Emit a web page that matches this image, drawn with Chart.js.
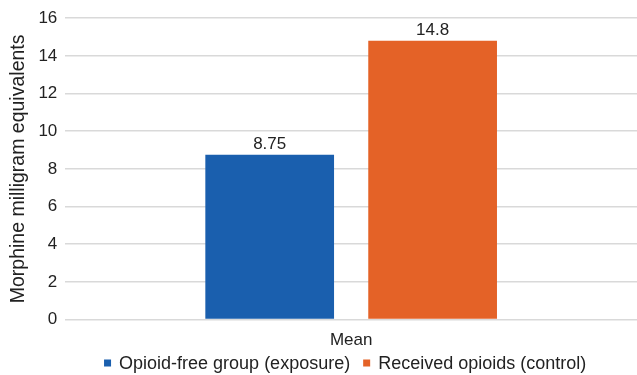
<!DOCTYPE html>
<html>
<head>
<meta charset="utf-8">
<script src="https://cdn.jsdelivr.net/npm/chart.js@4"></script>
<style>
  html, body { margin: 0; padding: 0; background: #fff; }
  #wrap { width: 637px; height: 375px; position: relative; }
</style>
</head>
<body>
<div id="wrap"><canvas id="barChart"></canvas></div>
<script>
// chart values
var categories = ['Mean'];
var exposureValues = [8.75];
var controlValues = [14.8];
var seriesNames = ['Opioid-free group (exposure)', 'Received opioids (control)'];
var seriesColors = ['#1a5fae', '#e46227'];

var fontFamily = '"Liberation Sans", Arial, sans-serif';

// draws the value above each bar
var valueLabels = {
    id: 'valueLabels',
    afterDatasetsDraw: function (chart) {
        var ctx = chart.ctx;
        ctx.save();
        ctx.font = '17px ' + fontFamily;
        ctx.fillStyle = '#222';
        ctx.textAlign = 'center';
        ctx.textBaseline = 'bottom';
        chart.data.datasets.forEach(function (ds, i) {
            chart.getDatasetMeta(i).data.forEach(function (bar, j) {
                ctx.fillText(String(ds.data[j]), bar.x, bar.y - 2);
            });
        });
        ctx.restore();
    }
};

// compact legend under the axis (built-in one takes too much height)
var bottomLegend = {
    id: 'bottomLegend',
    afterDraw: function (chart) {
        var ctx = chart.ctx;
        var box = 7, gap = 8, itemGap = 13;
        ctx.save();
        ctx.font = '18px ' + fontFamily;
        ctx.textBaseline = 'middle';
        var widths = chart.data.datasets.map(function (ds) {
            return box + gap + ctx.measureText(ds.label).width;
        });
        var total = widths.reduce(function (a, b) { return a + b; }, 0) + itemGap * (widths.length - 1);
        var x = (chart.chartArea.left + chart.chartArea.right) / 2 - 6 - total / 2;
        var y = chart.height - 12;
        chart.data.datasets.forEach(function (ds, i) {
            ctx.fillStyle = ds.backgroundColor;
            ctx.fillRect(x, y - box / 2, box, box);
            ctx.fillStyle = '#222';
            ctx.fillText(ds.label, x + box + gap, y + 1);
            x += widths[i] + itemGap;
        });
        ctx.restore();
    }
};

var ctx = document.getElementById('barChart').getContext('2d');
new Chart(ctx, {
    type: 'bar',
    data: {
        labels: categories,
        datasets: [{
            label: seriesNames[0],
            data: exposureValues,
            backgroundColor: seriesColors[0],
            barPercentage: 0.79,
            categoryPercentage: 0.57
        }, {
            label: seriesNames[1],
            data: controlValues,
            backgroundColor: seriesColors[1],
            barPercentage: 0.79,
            categoryPercentage: 0.57
        }]
    },
    options: {
        responsive: true,
        maintainAspectRatio: false,
        animation: false,
        layout: { padding: { top: 10, right: 0, left: 7, bottom: 13 } },
        plugins: {
            legend: { display: false },
            tooltip: { enabled: false }
        },
        scales: {
            x: {
                grid: { display: false, drawTicks: false },
                border: { color: '#d9d9d9' },
                ticks: {
                    color: '#222',
                    padding: 11,
                    font: { size: 17, family: fontFamily }
                }
            },
            y: {
                min: 0,
                max: 16,
                ticks: {
                    stepSize: 2,
                    color: '#222',
                    padding: 8,
                    font: { size: 17, family: fontFamily }
                },
                grid: { color: '#d9d9d9', lineWidth: 1.5, drawTicks: false },
                border: { display: false },
                title: {
                    display: true,
                    text: 'Morphine milligram equivalents',
                    color: '#222',
                    padding: 0,
                    font: { size: 19.5, family: fontFamily }
                }
            }
        }
    },
    plugins: [valueLabels, bottomLegend]
});
</script>
</body>
</html>
